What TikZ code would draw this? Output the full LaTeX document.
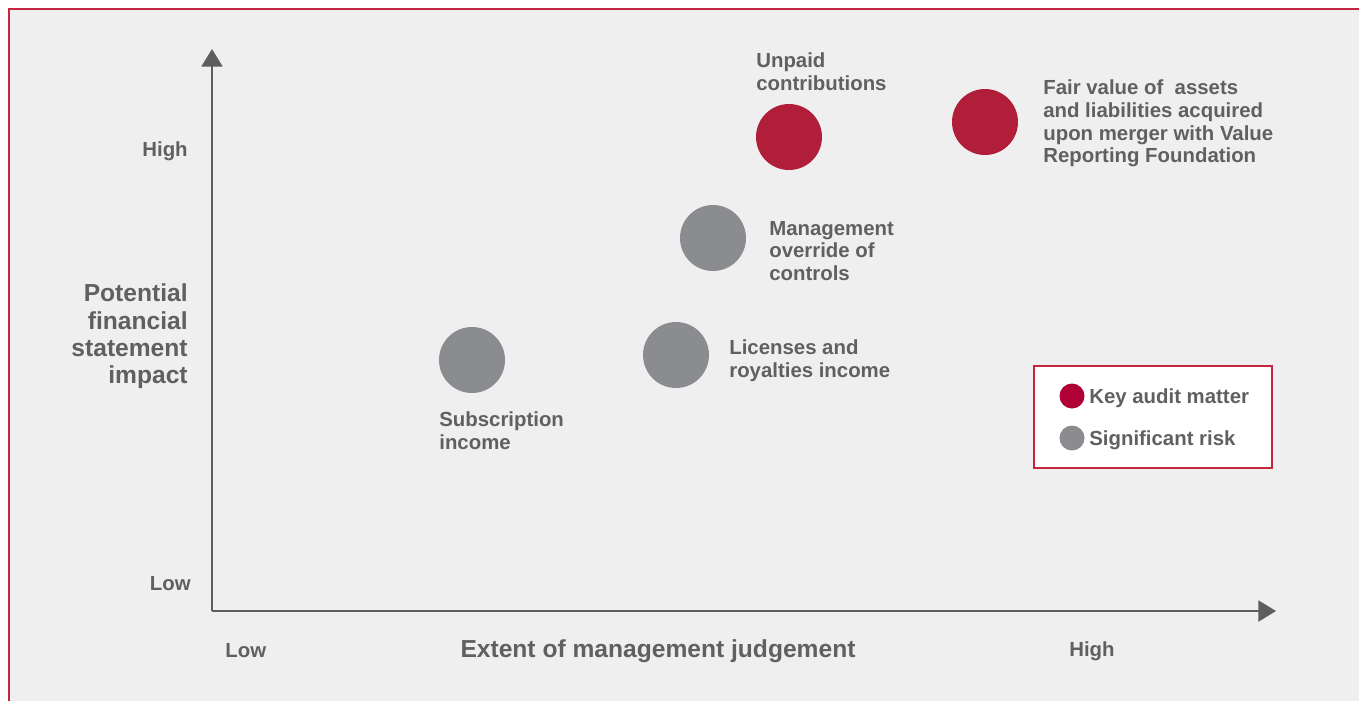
\documentclass[tikz,border=0pt]{standalone}
\usepackage{fontspec}
\setmainfont{Liberation Sans}
\usetikzlibrary{arrows.meta, positioning}
\definecolor{kamred}{HTML}{B01E3A}
\definecolor{legred}{HTML}{B00036}
\definecolor{riskgrey}{HTML}{8B8C90}
\definecolor{txtgrey}{HTML}{5F6062}
\definecolor{axisgrey}{HTML}{5E5E5E}
\definecolor{framered}{HTML}{C4263F}
\definecolor{panel}{HTML}{EFEFEF}
\newcommand{\lbl}{\fontsize{11.6}{13}\selectfont\bfseries}
\newcommand{\ttl}{\fontsize{14}{15.6}\selectfont\bfseries}

\begin{document}
\begin{tikzpicture}[
        x=0.02cm, y=-0.02cm,
        kam/.style={circle, fill=kamred, minimum size=1.32cm, inner sep=0pt},
        risk/.style={circle, fill=riskgrey, minimum size=1.32cm, inner sep=0pt},
        label/.style={font=\lbl, text=txtgrey, align=left, inner sep=0pt, anchor=west},
        axis/.style={draw=axisgrey, line width=0.9pt, -{Triangle[length=10pt, width=12pt]}}
    ]
        \useasboundingbox (0,0) rectangle (1359,701);

        % Panel and frame
        \fill[white] (0,0) rectangle (1359,701);
        \fill[panel] (9,9) rectangle (1359,701);
        \draw[framered, line width=1.4pt] (9,701) -- (9,9) -- (1359,9);

        % Axes
        \coordinate (origin) at (212,611);
        \coordinate (ytop) at (212,49);
        \coordinate (xend) at (1276,611);
        \draw[axis] (origin) -- (ytop);
        \draw[axis] (origin) -- (xend);

        % Axis labels
        \node[label, anchor=east] (yhigh) at (188,151) {High};
        \node[label, anchor=east] (ylow) at (191,584) {Low};
        \node[label] (xlow) at (225,651) {Low};
        \node[label] (xhigh) at (1069,651) {High};
        \node[font=\ttl, text=txtgrey, inner sep=0pt] (xtitle) at (658,651) {Extent of management judgement};
        \node[font=\ttl, text=txtgrey, align=right, inner sep=0pt, anchor=east] (ytitle) at (188,336.5)
            {Potential\\financial\\statement\\impact};

        % Key audit matters
        \node[kam] (unpaid) at (789,137) {};
        \node[label] (unpaidtxt) at (756,72) {Unpaid\\contributions};
        \node[kam] (fairval) at (985,122) {};
        \node[label] (fairvaltxt) at (1043,123.5) {Fair value of\ \ assets\\and liabilities acquired\\upon merger with Value\\Reporting Foundation};

        % Significant risks
        \node[risk] (override) at (713,238) {};
        \node[label] (overridetxt) at (769,251) {Management\\override of\\controls};
        \node[risk] (licenses) at (676,355) {};
        \node[label] (licensestxt) at (729,360.5) {Licenses and\\royalties income};
        \node[risk] (subscr) at (472,360) {};
        \node[label] (subscrtxt) at (439,431) {Subscription\\income};

        % Legend
        \node[draw=framered, line width=1.2pt, fill=white, minimum width=4.76cm, minimum height=2.04cm] (legend) at (1153,417) {};
        \node[circle, fill=legred, minimum size=0.5cm, inner sep=0pt] (legkam) at (1072,396) {};
        \node[label] (legkamtxt) at (1089,398) {Key audit matter};
        \node[circle, fill=riskgrey, minimum size=0.5cm, inner sep=0pt] (legrisk) at (1072,438) {};
        \node[label] (legrisktxt) at (1089,440) {Significant risk};
    \end{tikzpicture}
\end{document}
